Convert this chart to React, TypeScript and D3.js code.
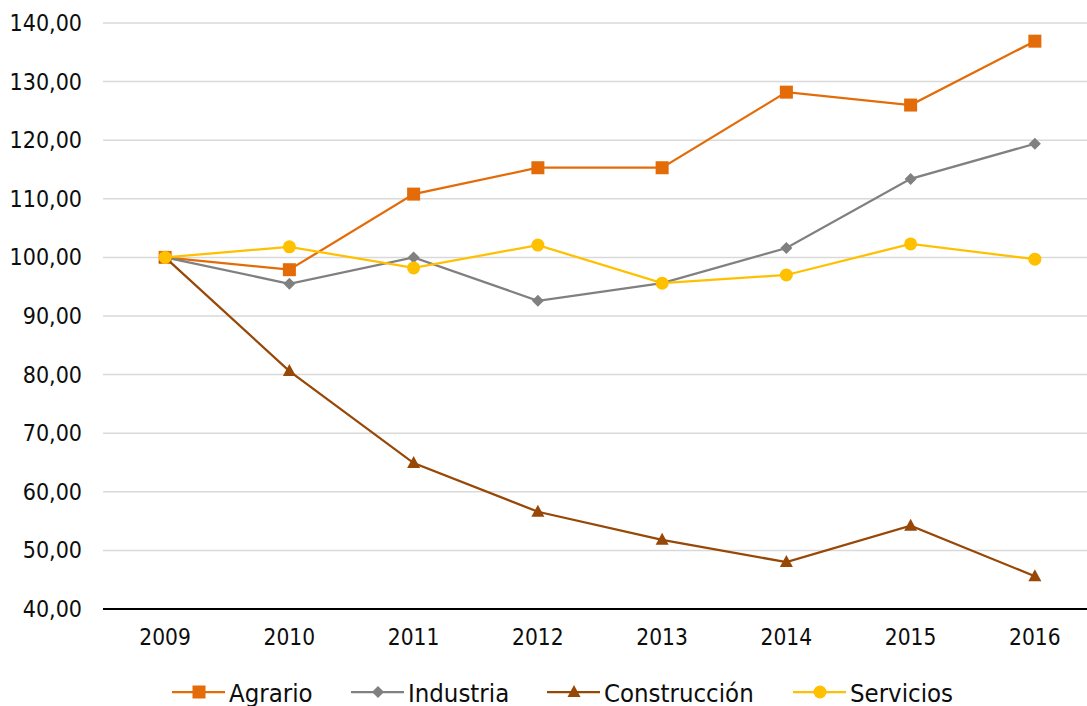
import React from "react";
import * as d3 from "d3";

const years = ["2009", "2010", "2011", "2012", "2013", "2014", "2015", "2016"];
const agrario = [100, 97.9, 110.8, 115.3, 115.3, 128.2, 126.0, 136.9];
const industria = [100, 95.5, 100.0, 92.6, 95.6, 101.6, 113.4, 119.4];
const construccion = [100, 80.6, 64.9, 56.6, 51.8, 48.0, 54.2, 45.6];
const servicios = [100, 101.8, 98.2, 102.1, 95.6, 97.0, 102.3, 99.7];
const yTicks = [40, 50, 60, 70, 80, 90, 100, 110, 120, 130, 140];

const series = [
  { name: "Agrario", values: agrario, color: "#E36C09", marker: "square" },
  { name: "Industria", values: industria, color: "#808080", marker: "diamond" },
  { name: "Construcción", values: construccion, color: "#974706", marker: "triangle" },
  { name: "Servicios", values: servicios, color: "#FFC000", marker: "circle" },
];

const W = 1087;
const H = 706;
const FONT = "'DejaVu Sans Condensed', 'DejaVu Sans', sans-serif";

function Marker({ type, x, y, color }: { type: string; x: number; y: number; color: string }) {
  if (type === "square") return <rect x={x - 6.5} y={y - 6.5} width={13} height={13} fill={color} />;
  if (type === "diamond")
    return <path d={`M${x},${y - 6}L${x + 6},${y}L${x},${y + 6}L${x - 6},${y}Z`} fill={color} />;
  if (type === "triangle")
    return <path d={`M${x},${y - 7}L${x + 6.5},${y + 5}L${x - 6.5},${y + 5}Z`} fill={color} />;
  return <circle cx={x} cy={y} r={6.5} fill={color} />;
}

export default function App() {
  const x = d3.scaleBand().domain(years).range([103, 1097]);
  const y = d3.scaleLinear().domain([40, 140]).range([609, 23]);
  const cx = (yr: string) => (x(yr) as number) + x.bandwidth() / 2;
  const line = d3
    .line<number>()
    .x((_, i) => cx(years[i]))
    .y((v) => y(v));

  const legendItems = [
    { lx: 172, tx: 229 },
    { lx: 351, tx: 408 },
    { lx: 547, tx: 604 },
    { lx: 793, tx: 850 },
  ];

  return (
    <svg width={W} height={H} style={{ position: "absolute", left: 0, top: 0, background: "#fff" }}>
      {yTicks.map((t) => (
        <g key={t}>
          {t !== 40 && <line x1={103} x2={W} y1={y(t)} y2={y(t)} stroke="#d9d9d9" strokeWidth={1.5} />}
          <text
            x={82}
            y={y(t)}
            textAnchor="end"
            dominantBaseline="central"
            fontFamily={FONT}
            fontSize={23}
            fill="#0d0d0d"
          >
            {d3.format(".2f")(t).replace(".", ",")}
          </text>
        </g>
      ))}
      <line x1={103} x2={W} y1={y(40)} y2={y(40)} stroke="#000" strokeWidth={2} />
      {years.map((yr) => (
        <text
          key={yr}
          x={cx(yr)}
          y={637}
          textAnchor="middle"
          dominantBaseline="central"
          fontFamily={FONT}
          fontSize={22.5}
          fill="#0d0d0d"
        >
          {yr}
        </text>
      ))}
      {series.map((s) => (
        <g key={s.name}>
          <path d={line(s.values) as string} fill="none" stroke={s.color} strokeWidth={2.25} />
          {s.values.map((v, i) => (
            <Marker key={i} type={s.marker} x={cx(years[i])} y={y(v)} color={s.color} />
          ))}
        </g>
      ))}
      {series.map((s, i) => {
        const l = legendItems[i];
        return (
          <g key={s.name}>
            <line x1={l.lx} x2={l.lx + 53} y1={692} y2={692} stroke={s.color} strokeWidth={2.25} />
            <Marker type={s.marker} x={l.lx + 27} y={692} color={s.color} />
            <text x={l.tx} y={693} dominantBaseline="central" fontFamily={FONT} fontSize={25.5} fill="#0d0d0d">
              {s.name}
            </text>
          </g>
        );
      })}
    </svg>
  );
}
